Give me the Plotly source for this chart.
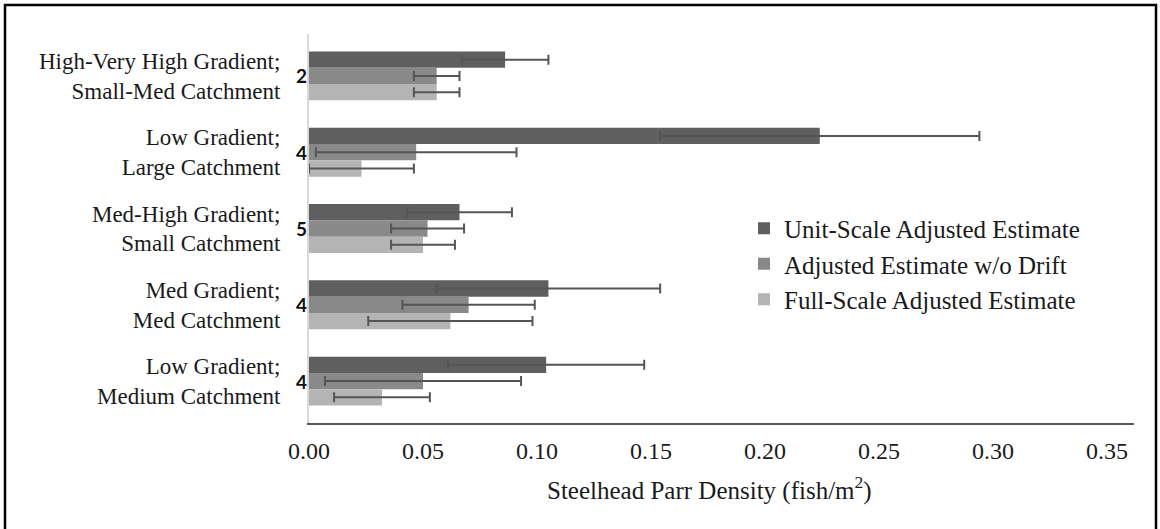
import plotly.graph_objects as go

# ---- data (top-to-bottom order as shown in the chart) ----
categories = [
    "High-Very High Gradient;<br>Small-Med Catchment",
    "Low Gradient;<br>Large Catchment",
    "Med-High Gradient;<br>Small Catchment",
    "Med Gradient;<br>Med Catchment",
    "Low Gradient;<br>Medium Catchment",
]
n_sites = ["2", "4", "5", "4", "4"]

series_names = [
    "Unit-Scale Adjusted Estimate",
    "Adjusted Estimate w/o Drift",
    "Full-Scale Adjusted Estimate",
]
unit_scale = [0.086, 0.224, 0.066, 0.105, 0.104]
unit_scale_err = [0.019, 0.070, 0.023, 0.049, 0.043]
no_drift = [0.056, 0.047, 0.052, 0.070, 0.050]
no_drift_err = [0.010, 0.044, 0.016, 0.029, 0.043]
full_scale = [0.056, 0.023, 0.050, 0.062, 0.032]
full_scale_err = [0.010, 0.023, 0.014, 0.036, 0.021]

x_ticks = [0.00, 0.05, 0.10, 0.15, 0.20, 0.25, 0.30, 0.35]
x_title = "Steelhead Parr Density (fish/m<sup>2</sup>)"

colors = ["#5f5f5f", "#898989", "#b4b4b4"]
err_color = "#555555"
SERIF = "Liberation Serif"

fig = go.Figure()
for name, vals, errs, col in zip(
    series_names,
    [unit_scale, no_drift, full_scale],
    [unit_scale_err, no_drift_err, full_scale_err],
    colors,
):
    fig.add_trace(go.Bar(
        y=categories, x=vals, orientation="h", name=name,
        marker=dict(color=col, line=dict(width=0)),
        error_x=dict(type="data", array=errs, symmetric=True,
                     color=err_color, thickness=2, width=5),
    ))

# site counts beside the category axis
for cat, n in zip(categories, n_sites):
    fig.add_annotation(
        x=0, y=cat, xref="x", yref="y", text=f"<b>{n}</b>",
        showarrow=False, xanchor="right", xshift=0,
        font=dict(family="Lato", size=19, color="#111111"),
    )

# axis title placed under the axis
fig.add_annotation(
    x=0.4855, y=-0.168, xref="paper", yref="paper", text=x_title,
    showarrow=False, xanchor="center", yanchor="middle",
    font=dict(family=SERIF, size=25, color="#1a1a1a"),
)

# outer frame (left, top, right)
L, T, B = 309, 34, 106
W, H = 1160, 529
pw, ph = W - L - 26, H - T - B
def px(x):
    return (x - L) / pw
def py(y):
    return (H - B - y) / ph
fig.add_shape(type="path", xref="paper", yref="paper",
              path=f"M {px(5)} {py(540)} L {px(5)} {py(5)} L {px(1156)} {py(5)} L {px(1156)} {py(540)}",
              line=dict(color="black", width=2.5))

fig.update_layout(
    width=W, height=H,
    margin=dict(l=L, r=26, t=T, b=B, pad=0),
    paper_bgcolor="white", plot_bgcolor="white",
    barmode="group", bargap=0.36, bargroupgap=0,
    showlegend=True,
    legend=dict(
        x=px(744), y=py(264), xanchor="left", yanchor="middle",
        font=dict(family=SERIF, size=25, color="#1a1a1a"),
        bgcolor="rgba(0,0,0,0)", borderwidth=0, traceorder="normal",
    ),
    font=dict(family=SERIF, color="#1a1a1a"),
)
fig.update_xaxes(
    range=[0, 0.3618], tickvals=x_ticks, tickformat=".2f",
    showgrid=False, zeroline=False, showline=True,
    linecolor="#595959", linewidth=1.6, ticks="",
    ticklabelstandoff=5,
    tickfont=dict(family=SERIF, size=24, color="#1a1a1a"),
)
fig.update_yaxes(
    range=[4.55, -0.55], type="category",
    showgrid=False, zeroline=False, showline=True,
    linecolor="#d9d9d9", linewidth=2, ticks="",
    ticklabelstandoff=22,
    tickfont=dict(family=SERIF, size=23, color="#1a1a1a"),
)

fig.write_html("out.html", config={"displayModeBar": False},
               post_script="document.body.style.margin='0';")
